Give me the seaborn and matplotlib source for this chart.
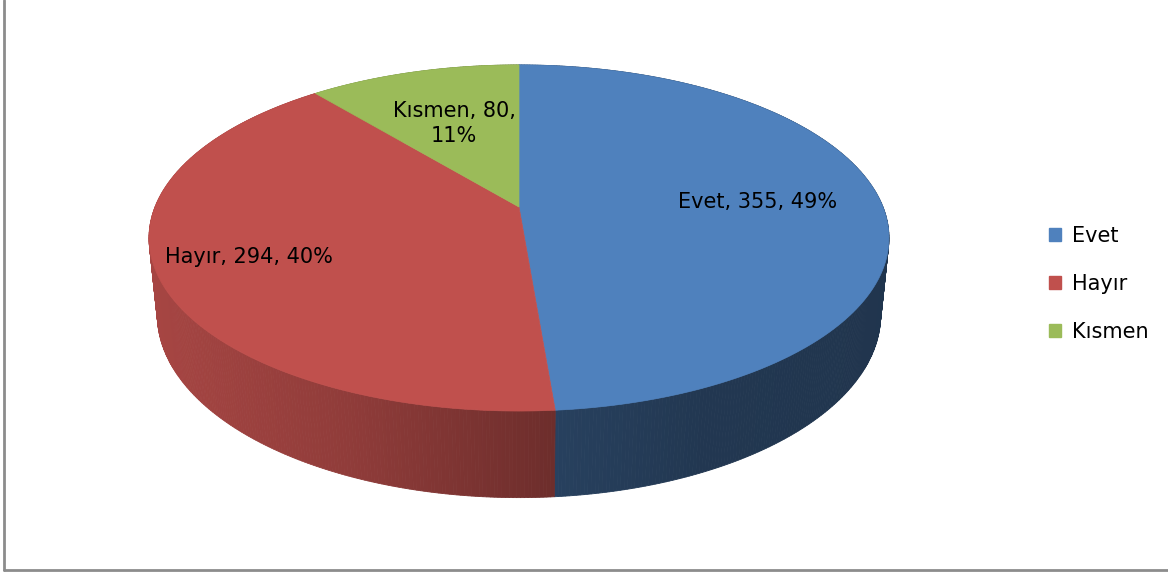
import numpy as np
import matplotlib
matplotlib.use("Agg")
import matplotlib.pyplot as plt
import matplotlib.colors as mcolors
import seaborn as sns
from matplotlib.patches import Patch, Polygon

# --- veriler ---
kategoriler = ["Evet", "Hayır", "Kısmen"]
degerler = [355, 294, 80]
renkler = ["#4f81bd", "#c0504d", "#9bbb59"]

sns.set_theme(style="white")
plt.rcParams["font.family"] = ["DejaVu Sans"]

# --- 3B pasta icin basit perspektif kamera (piksel uzayinda) ---
CX, CY = 519, 207        # pasta merkezi ekranda
R = 364                  # olcek
ALPHA = np.radians(27.4) # bakis acisi
L = 4.96                 # kamera uzakligi
H = 0.24                 # pasta kalinligi
ETIKET_R = [0.66, 0.76, 0.58]  # etiketlerin merkeze uzakligi


def proj(u, v, z=0.0):
    depth = L + v * np.cos(ALPHA) - z * np.sin(ALPHA)
    up = v * np.sin(ALPHA) + z * np.cos(ALPHA)
    return CX + R * L * u / depth, CY - R * L * up / depth


toplam = sum(degerler)
oranlar = np.array(degerler) / toplam
sinirlar = 90 - 360 * np.concatenate([[0], np.cumsum(oranlar)])

fig, ax = plt.subplots(figsize=(11.68, 5.73), dpi=100)
fig.subplots_adjust(0, 0, 1, 1)
ax.set_xlim(0, 1168)
ax.set_ylim(573, 0)
ax.axis("off")

# yan yuzey golgesi (soldan saga koyulasan)
golge_x = [150, 350, 553, 557, 700, 890]
golge_f = [0.87, 0.75, 0.57, 0.50, 0.43, 0.41]

seritler = []
for i, (a0, a1) in enumerate(zip(sinirlar[:-1], sinirlar[1:])):
    t = np.radians(np.linspace(a0, a1, int(abs(a1 - a0) * 2) + 2))
    for ta, tb in zip(t[:-1], t[1:]):
        pts = [proj(np.cos(ta), np.sin(ta)), proj(np.cos(tb), np.sin(tb)),
               proj(np.cos(tb), np.sin(tb), -H), proj(np.cos(ta), np.sin(ta), -H)]
        vm = np.sin((ta + tb) / 2)
        xm = np.mean([p[0] for p in pts])
        f = np.interp(xm, golge_x, golge_f)
        rgb = np.array(mcolors.to_rgb(renkler[i])) * f
        seritler.append((vm, pts, rgb))

seritler.sort(key=lambda s: -s[0])
for vm, pts, rgb in seritler:
    ax.add_patch(Polygon(pts, closed=True, fc=rgb, ec=rgb, lw=0.6, zorder=1))

# ust yuzeyler
for i, (a0, a1) in enumerate(zip(sinirlar[:-1], sinirlar[1:])):
    t = np.radians(np.linspace(a0, a1, 300))
    pts = [proj(0, 0)] + [proj(np.cos(a), np.sin(a)) for a in t]
    ax.add_patch(Polygon(pts, closed=True, fc=renkler[i], ec=renkler[i], lw=0.5, zorder=3))

# etiketler
for i, (a0, a1) in enumerate(zip(sinirlar[:-1], sinirlar[1:])):
    orta = np.radians((a0 + a1) / 2)
    r = ETIKET_R[i]
    x, y = proj(r * np.cos(orta), r * np.sin(orta))
    ayrac = ",\n" if oranlar[i] < 0.2 else ", "
    metin = f"{kategoriler[i]}, {degerler[i]}{ayrac}{oranlar[i] * 100:.0f}%"
    ax.text(x, y, metin, ha="center", va="center", fontsize=15, color="black",
            zorder=5, linespacing=1.3)

# lejant
tutamaclar = [Patch(facecolor=c, edgecolor=c) for c in renkler]
leg = ax.legend(tutamaclar, kategoriler, loc="center left",
                bbox_to_anchor=(1030 / 1168, 1 - 284 / 573), frameon=False,
                fontsize=15, handlelength=0.6, handleheight=0.6, handletextpad=0.5,
                labelspacing=1.35)
for txt in leg.get_texts():
    txt.set_color("black")

# cerceve
ax.plot([4, 4], [0, 570], color="#8c8c8c", lw=2, zorder=0)
ax.plot([4, 1168], [570, 570], color="#8c8c8c", lw=2, zorder=0)

fig.savefig("out.png", dpi=100)
